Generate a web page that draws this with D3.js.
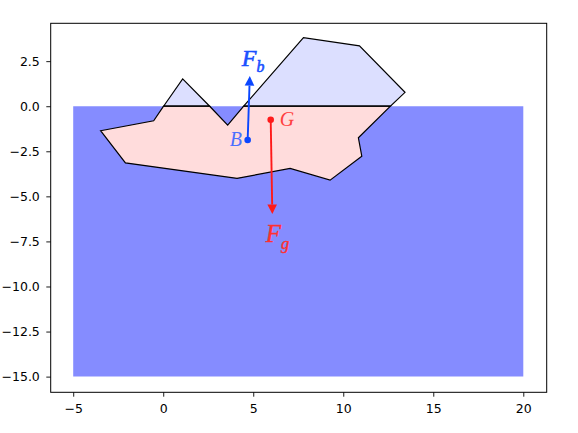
<!DOCTYPE html>
<html><head><meta charset="utf-8">
<script src="https://cdn.jsdelivr.net/npm/d3@7"></script>
<style>html,body{margin:0;padding:0;background:#fff}svg{display:block}</style></head>
<body><svg id="c" width="578" height="433"></svg>
<script>
const xTicks=[-5,0,5,10,15,20];
const yTicks=[2.5,0,-2.5,-5,-7.5,-10,-12.5,-15];
const xLimits=[-6.25,21.3];
const yLimits=[-15.87,4.6];
const water=[[-5,0],[20,0],[20,-15],[-5,-15]];
const submerged=[[-3.48,-1.36],[-0.53,-0.81],[0.02,0],[2.58,0],[3.58,-1.05],[4.47,0],[12.62,0],[10.84,-1.75],[11.03,-2.77],[9.27,-4.1],[7.05,-3.45],[4.1,-4],[-2.1,-3.14]];
const aboveLeft=[[0.02,0],[1.08,1.52],[2.58,0]];
const aboveRight=[[4.47,0],[7.79,3.8],[10.9,3.35],[13.43,0.77],[12.62,0]];
const centerB=[4.69,-1.87], tipB=[4.81,1.67];
const centerG=[5.97,-0.75], tipG=[6.06,-5.98];
const blue="#0a46ff", red="#ff1a1a";

const svg=d3.select("#c");
const L=50.7,R=546.7,T=23.3,B=392.3;
const x=d3.scaleLinear().domain(xLimits).range([L,R]);
const y=d3.scaleLinear().domain(yLimits).range([B,T]);
const line=d3.line().x(d=>x(d[0])).y(d=>y(d[1])).curve(d3.curveLinearClosed);
const fmtMinus=s=>s.replace("-","\u2212");

svg.append("path").attr("d",line(water)).attr("fill","#858cff");
svg.append("path").attr("d",line(submerged)).attr("fill","#ffdcdc");
[aboveLeft,aboveRight].forEach(p=>svg.append("path").attr("d",line(p)).attr("fill","#dcdfff"));
[submerged,aboveLeft,aboveRight].forEach(p=>svg.append("path").attr("d",line(p)).attr("fill","none").attr("stroke","#000").attr("stroke-width",1.2));

function arrow(from,to,color){
  const x0=x(from[0]),y0=y(from[1]),x1=x(to[0]),y1=y(to[1]);
  const a=Math.atan2(y1-y0,x1-x0),h=9.5,w=4.8;
  const bx=x1-h*Math.cos(a),by=y1-h*Math.sin(a);
  svg.append("line").attr("x1",x0).attr("y1",y0).attr("x2",bx).attr("y2",by).attr("stroke",color).attr("stroke-width",1.9);
  svg.append("path").attr("fill",color).attr("d",`M${x1},${y1}L${bx-w*Math.sin(a)},${by+w*Math.cos(a)}L${bx+w*Math.sin(a)},${by-w*Math.cos(a)}Z`);
  svg.append("circle").attr("cx",x0).attr("cy",y0).attr("r",3.3).attr("fill",color);
}
arrow(centerB,tipB,blue);
arrow(centerG,tipG,red);

function label(px,py,main,sub,size,color,weight){
  const t=svg.append("text").attr("x",px).attr("y",py).attr("fill",color)
   .attr("stroke",color).attr("stroke-width",weight)
   .attr("font-family","'Liberation Serif',serif").attr("font-style","italic").attr("font-size",size);
  t.append("tspan").text(main);
  if(sub) t.append("tspan").attr("dy",size*0.25).attr("font-size",size*0.66).text(sub);
}
label(x(4.36),y(2.23),"F","b",24,"#1a50ff",0.6);
label(x(5.69),y(-7.55),"F","g",25,"#ff3030",0.4);
label(x(3.69),y(-2.22),"B",null,20,"#4a70ff",0);
label(x(6.47),y(-1.09),"G",null,20,"#ff4040",0);

const xAxis=d3.axisBottom(x).tickValues(xTicks).tickSize(4.4).tickPadding(7).tickFormat(d=>fmtMinus(String(d)));
const yAxis=d3.axisLeft(y).tickValues(yTicks).tickSize(4.4).tickPadding(6.5).tickFormat(d=>fmtMinus(d3.format(".1f")(d)));
const gx=svg.append("g").attr("transform",`translate(0,${B})`).call(xAxis);
const gy=svg.append("g").attr("transform",`translate(${L},0)`).call(yAxis);
[gx,gy].forEach(g=>{g.select(".domain").remove();
  g.selectAll("line").attr("stroke","#000").attr("stroke-width",0.9);
  g.selectAll("text").attr("fill","#000").attr("font-family","'DejaVu Sans',sans-serif").attr("font-size",12.5);});
svg.append("rect").attr("x",L).attr("y",T).attr("width",R-L).attr("height",B-T).attr("fill","none").attr("stroke","#000").attr("stroke-width",1);
</script></body></html>
